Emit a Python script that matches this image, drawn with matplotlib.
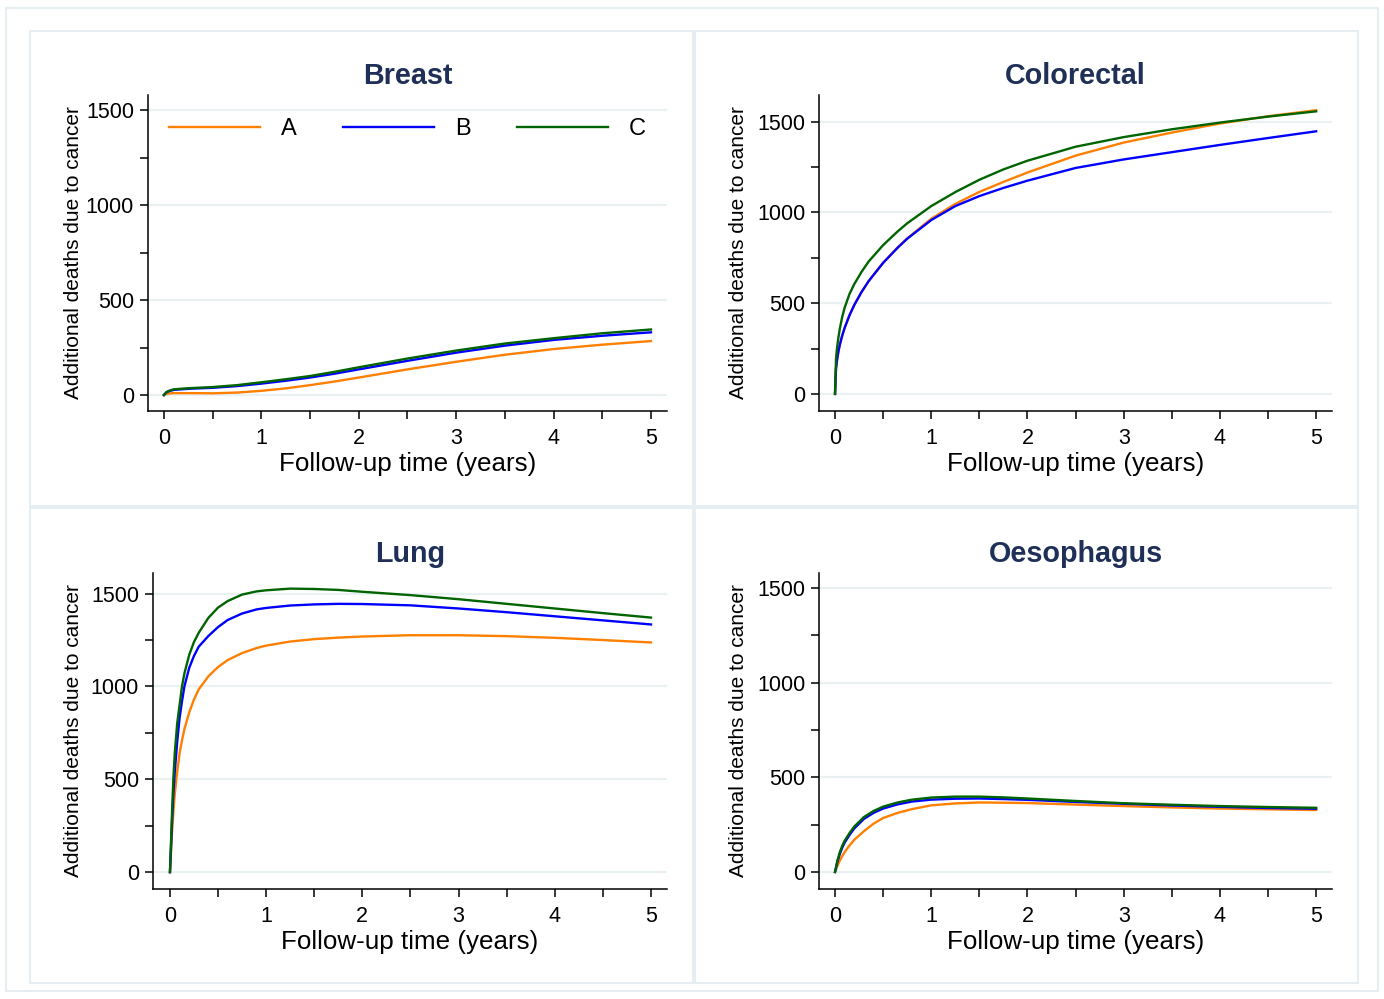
import matplotlib.pyplot as plt
from matplotlib.patches import Rectangle

plt.rcParams['font.family'] = ['Liberation Sans', 'DejaVu Sans']

# series labels and colours
series = ["A", "B", "C"]
colors = ["#ff7f00", "#0000ff", "#006400"]

# Breast
breast_t = [0, 0.025, 0.05, 0.1, 0.2, 0.3, 0.5, 0.75, 1, 1.25, 1.5, 1.75, 2, 2.5, 3, 3.5, 4, 4.5, 5]
breast_a = [0, 6, 8, 10, 10, 10, 9, 13, 22, 35, 52, 71, 92, 135, 175, 212, 242, 265, 284]
breast_b = [0, 14, 20, 27, 31, 34, 38, 47, 60, 75, 92, 112, 135, 180, 223, 260, 290, 312, 330]
breast_c = [0, 15, 22, 30, 34, 37, 42, 52, 67, 83, 100, 122, 146, 192, 234, 271, 299, 325, 345]

# Colorectal
colo_t = [0, 0.01, 0.02, 0.035, 0.05, 0.075, 0.1, 0.15, 0.2, 0.275, 0.35, 0.5, 0.65, 0.75,
          1, 1.25, 1.5, 1.75, 2, 2.5, 3, 3.5, 4, 4.5, 5]
colo_a = [0, 137, 184, 233, 271, 322, 364, 433, 490, 561, 622, 723, 807, 857,
          965, 1047, 1113, 1168, 1220, 1313, 1385, 1440, 1490, 1530, 1563]
colo_b = [0, 137, 184, 233, 271, 322, 364, 433, 490, 561, 622, 722, 805, 855,
          958, 1035, 1090, 1135, 1175, 1245, 1292, 1332, 1372, 1410, 1447]
colo_c = [0, 190, 250, 310, 360, 425, 475, 550, 605, 672, 730, 820, 895, 940,
          1035, 1112, 1180, 1237, 1285, 1362, 1415, 1458, 1495, 1528, 1557]

# Lung
lung_t = [0, 0.01, 0.02, 0.035, 0.05, 0.075, 0.1, 0.125, 0.15, 0.2, 0.25, 0.3, 0.4, 0.5, 0.6,
          0.75, 0.9, 1, 1.25, 1.5, 1.75, 2, 2.5, 3, 3.5, 4, 4.5, 5]
lung_a = [0, 100, 200, 320, 420, 540, 640, 710, 770, 860, 930, 985, 1055, 1105, 1142,
          1180, 1207, 1220, 1242, 1255, 1263, 1269, 1276, 1276, 1271, 1262, 1250, 1237]
lung_b = [0, 120, 250, 420, 540, 700, 830, 920, 1000, 1100, 1165, 1215, 1272, 1320, 1358,
          1393, 1415, 1423, 1436, 1442, 1445, 1444, 1437, 1420, 1400, 1378, 1356, 1334]
lung_c = [0, 150, 300, 500, 640, 800, 900, 1000, 1070, 1170, 1240, 1290, 1370, 1425, 1460,
          1495, 1512, 1518, 1527, 1525, 1520, 1510, 1492, 1470, 1445, 1420, 1395, 1371]

# Oesophagus
oes_t = [0, 0.025, 0.05, 0.075, 0.1, 0.15, 0.2, 0.3, 0.4, 0.5, 0.65, 0.8, 1, 1.25, 1.5, 1.75,
         2, 2.5, 3, 3.5, 4, 4.5, 5]
oes_a = [0, 32, 60, 84, 105, 140, 170, 215, 255, 285, 312, 332, 352, 362, 367, 366,
         364, 356, 348, 341, 335, 331, 327]
oes_b = [0, 55, 95, 128, 155, 195, 230, 280, 312, 335, 357, 372, 382, 387, 388, 385,
         381, 370, 360, 351, 344, 338, 334]
oes_c = [0, 60, 105, 138, 165, 205, 240, 290, 322, 345, 367, 382, 393, 398, 398, 394,
         388, 375, 363, 355, 348, 343, 339]

panels = [
    ("Breast", breast_t, [breast_a, breast_b, breast_c], [0.1069, 0.5886, 0.3750, 0.3163], (-0.164, 5.164), (-84, 1579), -0.125),
    ("Colorectal", colo_t, [colo_a, colo_b, colo_c], [0.5918, 0.5886, 0.3707, 0.3163], (-0.166, 5.166), (-94, 1647), -0.138),
    ("Lung", lung_t, [lung_a, lung_b, lung_c], [0.1105, 0.1101, 0.3714, 0.3163], (-0.177, 5.166), (-91, 1611), -0.136),
    ("Oesophagus", oes_t, [oes_a, oes_b, oes_c], [0.5918, 0.1101, 0.3707, 0.3163], (-0.166, 5.166), (-90, 1579), -0.138),
]

fig = plt.figure(figsize=(13.84, 9.99), dpi=100)

# frames like the combined graph regions
edge = "#e6eef1"
fig.patches.append(Rectangle((6/1384, 1-991/999), 1372/1384, 983/999, transform=fig.transFigure,
                             fill=False, ec=edge, lw=1.5))
for x0, y0 in [(30, 31), (695, 31), (30, 508), (695, 508)]:
    fig.patches.append(Rectangle((x0/1384, 1-(y0+475)/999), 663/1384, 475/999, transform=fig.transFigure,
                                 fill=False, ec=edge, lw=1.5))

for i, (title, t, ys, pos, xl, yl, ylab_x) in enumerate(panels):
    ax = fig.add_axes(pos)
    for y, c, s in zip(ys, colors, series):
        ax.plot(t, y, color=c, lw=1.7, label=s, solid_joinstyle='round')
    ax.set_xlim(*xl)
    ax.set_ylim(*yl)
    ax.set_xticks([0, 1, 2, 3, 4, 5])
    ax.set_xticks([0.5, 1.5, 2.5, 3.5, 4.5], minor=True)
    ax.set_yticks([0, 500, 1000, 1500])
    ax.set_yticks([250, 750, 1250], minor=True)
    ax.tick_params(which='both', length=6, width=1.1, color='black', labelsize=15.5)
    ax.tick_params(axis='x', pad=6)
    ax.tick_params(axis='y', pad=4)
    ax.grid(axis='y', which='major', color='#eaf1f3', lw=1.6)
    ax.set_axisbelow(True)
    for sp in ['top', 'right']:
        ax.spines[sp].set_visible(False)
    for sp in ['left', 'bottom']:
        ax.spines[sp].set_linewidth(1.1)
    ax.set_title(title, fontsize=20.7, fontweight='bold', color='#1f2f57', pad=8)
    ax.set_xlabel("Follow-up time (years)", fontsize=18.7)
    ax.xaxis.set_label_coords(0.5, -0.13)
    ax.set_ylabel("Additional deaths due to cancer", fontsize=15)
    ax.yaxis.set_label_coords(ylab_x, 0.5)
    if i == 0:
        ax.legend(loc='center', bbox_to_anchor=(0.5, 0.893), ncol=3, frameon=False,
                  fontsize=17, handlelength=3.85, handletextpad=0.9, columnspacing=1.95)

fig.savefig("out.png", dpi=100)
